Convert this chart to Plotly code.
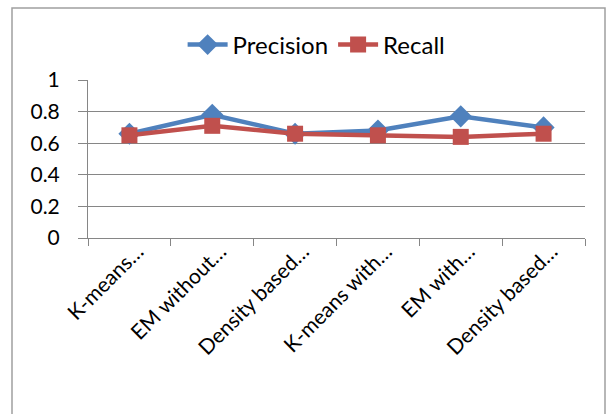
import plotly.graph_objects as go

categories = ["K-means…", "EM without…", "Density based…", "K-means with…", "EM with…", "Density based…"]
cat_ids = ["c1", "c2", "c3", "c4", "c5", "c6"]
precision = [0.66, 0.78, 0.66, 0.68, 0.77, 0.70]
recall = [0.65, 0.71, 0.66, 0.65, 0.64, 0.66]
y_ticks = [0, 0.2, 0.4, 0.6, 0.8, 1]
y_labels = ["0", "0.2", "0.4", "0.6", "0.8", "1"]

FONT = "Lato, Open Sans, sans-serif"
fig = go.Figure()
fig.add_trace(go.Scatter(x=cat_ids, y=precision, name="Precision", mode="lines+markers",
                         line=dict(color="#4F81BD", width=4.5),
                         marker=dict(symbol="diamond", size=17, color="#4F81BD")))
fig.add_trace(go.Scatter(x=cat_ids, y=recall, name="Recall", mode="lines+markers",
                         line=dict(color="#C0504D", width=4.5),
                         marker=dict(symbol="square", size=16, color="#C0504D")))

fig.update_layout(
    width=611, height=414,
    margin=dict(l=88, r=26, t=80, b=176, autoexpand=False),
    paper_bgcolor="white", plot_bgcolor="white",
    font=dict(family=FONT, color="black"),
    showlegend=True,
    legend=dict(orientation="h", x=0.46, xanchor="center", y=(238-45)/158, yanchor="middle",
                font=dict(size=24, family=FONT), itemwidth=40, traceorder="normal"),
    xaxis=dict(type="category", tickmode="array", tickvals=cat_ids, ticktext=categories,
               tickangle=-45, tickfont=dict(size=21, family=FONT), automargin=False,
               showgrid=False, showline=True, linecolor="#868686", linewidth=1,
               ticks="outside", ticklen=7, tickcolor="#868686", tickson="boundaries",
               ticklabelshift=8, ticklabelstandoff=-8,
               range=[-0.5, 5.5], zeroline=False),
    yaxis=dict(range=[0, 1], tickmode="array", tickvals=y_ticks, ticktext=y_labels,
               tickfont=dict(size=21, family=FONT), automargin=False,
               showgrid=True, gridcolor="#868686", gridwidth=1,
               showline=True, linecolor="#868686", linewidth=1,
               ticks="outside", ticklen=9, tickcolor="#868686", zeroline=False,
               ticklabelstandoff=14),
    shapes=[dict(type="rect", xref="paper", yref="paper",
                 x0=-76/497, x1=(605-88)/497, y0=-(430-238)/158, y1=(238-8)/158,
                 line=dict(color="#A0A0A0", width=1.5), fillcolor="rgba(0,0,0,0)", layer="below")],
)

fig.write_html("out.html", config={"displayModeBar": False},
               post_script="document.body.style.margin='0';document.body.style.overflow='hidden';")
